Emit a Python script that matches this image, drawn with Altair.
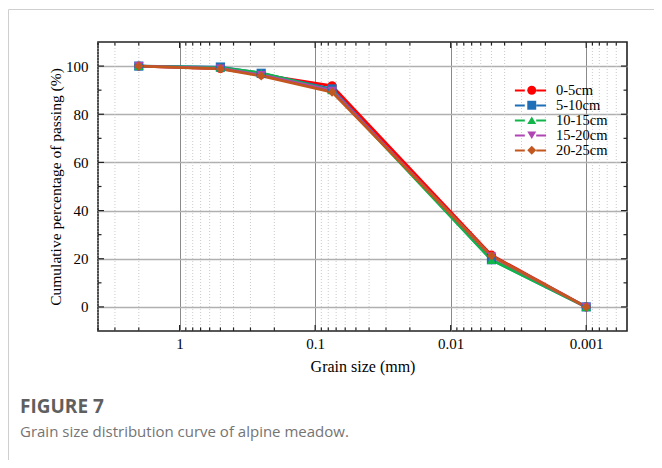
import altair as alt
import pandas as pd

# ---- data ----
grain_size = [2, 0.5, 0.25, 0.075, 0.005, 0.001]
series = ["0-5cm", "5-10cm", "10-15cm", "15-20cm", "20-25cm"]
pass_0_5 = [100, 99.0, 96.5, 91.8, 21.5, 0]
pass_5_10 = [100, 99.6, 97.0, 90.5, 19.6, 0]
pass_10_15 = [100, 99.4, 97.2, 90.0, 19.5, 0]
pass_15_20 = [100, 99.0, 96.3, 89.8, 21.0, 0]
pass_20_25 = [100, 98.8, 95.9, 89.2, 21.2, 0]
colors = ["#FF0000", "#1F6FB8", "#11B54A", "#B046B4", "#C2571F"]
shapes = ["circle", "square", "triangle-up", "triangle-down", "diamond"]

major_x = [1, 0.1, 0.01, 0.001]
minor_x = [4, 3, 2,
           0.9, 0.8, 0.7, 0.6, 0.5, 0.4, 0.3, 0.2,
           0.09, 0.08, 0.07, 0.06, 0.05, 0.04, 0.03, 0.02,
           0.009, 0.008, 0.007, 0.006, 0.005, 0.004, 0.003, 0.002,
           0.0009, 0.0008, 0.0007, 0.0006]
major_y = [0, 20, 40, 60, 80, 100]
minor_y = [10, 30, 50, 70, 90]

W, H = 529, 289
SERIF = "Liberation Serif"
SANS = "Open Sans"

rows = []
for name, vals in zip(series, [pass_0_5, pass_5_10, pass_10_15, pass_15_20, pass_20_25]):
    for s, v in zip(grain_size, vals):
        rows.append({"size": s, "pct": v, "series": name})
df = pd.DataFrame(rows)

mx = pd.DataFrame({"size": major_x})
mnx = pd.DataFrame({"size": minor_x})
my = pd.DataFrame({"pct": major_y})
mny = pd.DataFrame({"pct": minor_y})

xscale = alt.Scale(type="log", domain=[0.0005, 4], reverse=True, nice=False)
yscale = alt.Scale(domain=[-10, 110], nice=False, zero=False)
cscale = alt.Scale(domain=series, range=colors)
sscale = alt.Scale(domain=series, range=shapes)

x_axis = alt.Axis(values=major_x, format="~g", ticks=False, domain=False,
                  grid=True, gridColor="#8a8a8a", gridWidth=1,
                  labelFont=SERIF, labelFontSize=15, labelColor="black",
                  labelPadding=5, title="Grain size (mm)", titleFont=SERIF,
                  titleFontSize=16, titleFontWeight="normal", titleColor="black",
                  titlePadding=7)
y_axis = alt.Axis(values=major_y, ticks=False, domain=False, grid=True,
                  gridColor="#b0b0b0", gridWidth=1.3,
                  labelFont=SERIF, labelFontSize=15, labelColor="black",
                  labelPadding=10, title="Cumulative percentage of passing (%)",
                  titleFont=SERIF, titleFontSize=15.5, titleFontWeight="normal",
                  titleColor="black", titlePadding=2)
X = alt.X("size:Q", scale=xscale, axis=x_axis)
Y = alt.Y("pct:Q", scale=yscale, axis=y_axis)

minor_grid = alt.Chart(mnx).mark_rule(color="#c4c4c4", strokeDash=[1, 2], strokeWidth=0.9).encode(x=X)

LEG_FS = 14.5
lines = alt.Chart(df).mark_line(strokeWidth=2.8).encode(
    x=X, y=Y,
    color=alt.Color("series:N", scale=cscale, sort=series,
                    legend=alt.Legend(orient="none", legendX=425, legendY=41, title=None,
                                      padding=0, symbolType="M-2.6,0H-0.95M0.95,0H2.6",
                                      symbolSize=144, symbolStrokeWidth=2.2,
                                      labelFont=SERIF, labelFontSize=LEG_FS, labelColor="black",
                                      labelOffset=18, rowPadding=0)),
)

pt_legend = alt.Legend(orient="none", legendX=426.5, legendY=41, title=None, padding=0,
                       symbolSize=80, symbolStrokeWidth=0, labelFont=SERIF,
                       labelFontSize=LEG_FS, labelOpacity=0, labelOffset=8, rowPadding=0)
points = alt.Chart(df).mark_point(filled=True, size=85, opacity=1).encode(
    x=X, y=Y,
    color=alt.Color("series:N", scale=cscale, sort=series, legend=pt_legend),
    shape=alt.Shape("series:N", scale=sscale, sort=series, legend=pt_legend),
)

tick_col = "#222222"
bx_major = alt.Chart(mx).mark_rule(color=tick_col, strokeWidth=1.2).encode(
    x=X, y=alt.value(H), y2=alt.value(H - 6))
bx_minor = alt.Chart(mnx).mark_rule(color=tick_col, strokeWidth=1.2).encode(
    x=X, y=alt.value(H), y2=alt.value(H - 3.5))
tx_major = alt.Chart(mx).mark_rule(color=tick_col, strokeWidth=1.2).encode(
    x=X, y=alt.value(0), y2=alt.value(6))
tx_minor = alt.Chart(mnx).mark_rule(color=tick_col, strokeWidth=1.2).encode(
    x=X, y=alt.value(0), y2=alt.value(3.5))
ly_major = alt.Chart(my).mark_rule(color=tick_col, strokeWidth=1.2).encode(
    y=Y, x=alt.value(0), x2=alt.value(6))
ly_minor = alt.Chart(mny).mark_rule(color=tick_col, strokeWidth=1.2).encode(
    y=Y, x=alt.value(0), x2=alt.value(3.5))
ry_major = alt.Chart(my).mark_rule(color=tick_col, strokeWidth=1.2).encode(
    y=Y, x=alt.value(W), x2=alt.value(W - 6))
ry_minor = alt.Chart(mny).mark_rule(color=tick_col, strokeWidth=1.2).encode(
    y=Y, x=alt.value(W), x2=alt.value(W - 3.5))

# figure card border and caption
border_top = alt.Chart(pd.DataFrame({"a": [0]})).mark_rule(color="#cfcfcf", strokeWidth=1).encode(
    x=alt.value(-89.5), x2=alt.value(W + 40), y=alt.value(-32.5))
border_left = alt.Chart(pd.DataFrame({"a": [0]})).mark_rule(color="#cfcfcf", strokeWidth=1).encode(
    x=alt.value(-89.5), y=alt.value(-32.5), y2=alt.value(H + 140))
cap1 = alt.Chart(pd.DataFrame({"t": ["FIGURE 7"]})).mark_text(
    font=SANS, fontSize=19, fontWeight="bold", color="#5f5f5f", align="left", baseline="alphabetic"
).encode(text="t:N", x=alt.value(-78), y=alt.value(371))
cap2 = alt.Chart(pd.DataFrame({"t": ["Grain size distribution curve of alpine meadow."]})).mark_text(
    font=SANS, fontSize=15, color="#747474", align="left", baseline="alphabetic"
).encode(text="t:N", x=alt.value(-78), y=alt.value(395))

chart = alt.layer(
    minor_grid, lines, points,
    bx_major, bx_minor, tx_major, tx_minor, ly_major, ly_minor, ry_major, ry_minor,
    border_top, border_left, cap1, cap2,
).resolve_legend(color="independent", shape="independent").properties(
    width=W, height=H,
    autosize=alt.AutoSizeParams(type="none"),
    padding={"left": 90, "top": 34, "right": 27, "bottom": 129},
    background="white",
).configure_view(stroke="#222222", strokeWidth=1.6)

chart.save("out.html", embed_options={"renderer": "svg", "actions": False})
